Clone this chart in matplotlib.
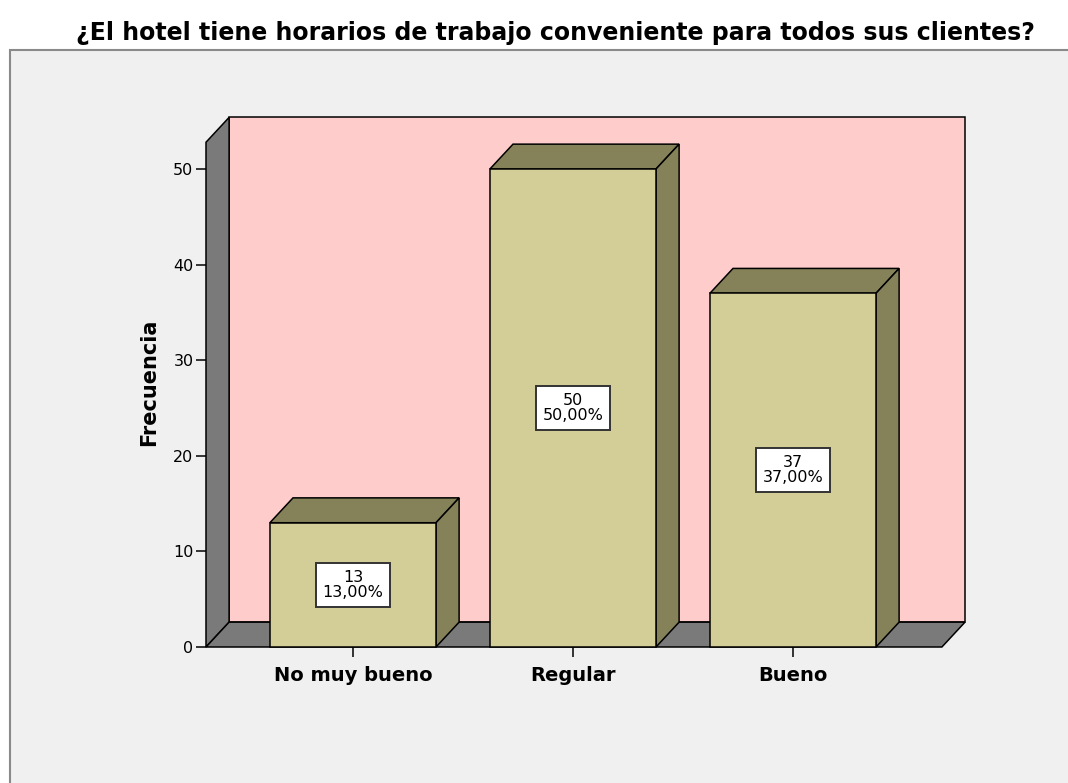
import matplotlib
matplotlib.use("Agg")
import matplotlib.pyplot as plt
from matplotlib.patches import Polygon, Rectangle

plt.rcParams['font.family'] = ['DejaVu Sans']

# datos
categorias = ["No muy bueno", "Regular", "Bueno"]
frecuencias = [13, 50, 37]
porcentajes = [13.00, 50.00, 37.00]
ticks_y = [0, 10, 20, 30, 40, 50]

# colores estilo SPSS
c_fondo = '#f0f0f0'
c_pared = '#ffcccc'
c_gris = '#7a7a7a'
c_frente = '#d3ce97'
c_lado = '#85825a'

# geometria de la caja 3D (unidades de datos)
ancho = 0.755        # ancho de barra
dx, dy = 0.105, 2.6  # profundidad
x0, x1 = -0.668, 2.677
techo = 52.8

fig = plt.figure(figsize=(10.68, 7.83), dpi=100)
fig.patch.set_facecolor('white')

# marco gris del grafico
fig.add_artist(Rectangle((10 / 1068, -0.1), 1.2, 0.1 + (783 - 50) / 783,
                         transform=fig.transFigure, facecolor=c_fondo,
                         edgecolor='#8a8a8a', lw=1.5, zorder=0))

fig.text(555 / 1068, 1 - 33 / 783, "¿El hotel tiene horarios de trabajo conveniente para todos sus clientes?",
         ha='center', va='center', fontsize=17, fontweight='bold')

ax = fig.add_axes([206 / 1068, (783 - 647) / 783, (964 - 206) / 1068, (647 - 117) / 783])
ax.set_facecolor('none')
ax.set_xlim(x0, x0 + (964 - 206) / 220)
ax.set_ylim(0, (647 - 117) / 9.56)
for s in ax.spines.values():
    s.set_visible(False)

kw = dict(edgecolor='black', lw=1.1, joinstyle='miter', clip_on=False)
# pared del fondo, pared izquierda y piso
ax.add_patch(Polygon([(x0 + dx, dy), (x1 + dx, dy), (x1 + dx, techo + dy), (x0 + dx, techo + dy)],
                     facecolor=c_pared, **kw))
ax.add_patch(Polygon([(x0, 0), (x0 + dx, dy), (x0 + dx, techo + dy), (x0, techo)],
                     facecolor=c_gris, **kw))
ax.add_patch(Polygon([(x0, 0), (x1, 0), (x1 + dx, dy), (x0 + dx, dy)],
                     facecolor=c_gris, **kw))

# barras
for i, (v, p) in enumerate(zip(frecuencias, porcentajes)):
    a, b = i - ancho / 2, i + ancho / 2
    ax.add_patch(Polygon([(a, v), (b, v), (b + dx, v + dy), (a + dx, v + dy)], facecolor=c_lado, **kw))
    ax.add_patch(Polygon([(b, 0), (b + dx, dy), (b + dx, v + dy), (b, v)], facecolor=c_lado, **kw))
    ax.add_patch(Polygon([(a, 0), (b, 0), (b, v), (a, v)], facecolor=c_frente, **kw))
    etiqueta = "{}\n{:.2f}%".format(v, p).replace('.', ',')
    ax.text(i, v / 2, etiqueta, ha='center', va='center', fontsize=11.5, linespacing=1.05,
            bbox=dict(boxstyle='square,pad=0.4', facecolor='white', edgecolor='#333333', lw=1.4))

ax.set_yticks(ticks_y)
ax.set_yticklabels([str(t) for t in ticks_y], fontsize=11.5)
ax.set_xticks(range(len(categorias)))
ax.set_xticklabels(categorias, fontsize=14, fontweight='bold')
ax.tick_params(axis='y', length=7, width=1.1, pad=2, colors='black')
ax.tick_params(axis='x', length=7.5, width=1.1, pad=6)
ax.set_ylabel("Frecuencia", fontsize=15, fontweight='bold', labelpad=10)

fig.savefig("out.png", dpi=100)
